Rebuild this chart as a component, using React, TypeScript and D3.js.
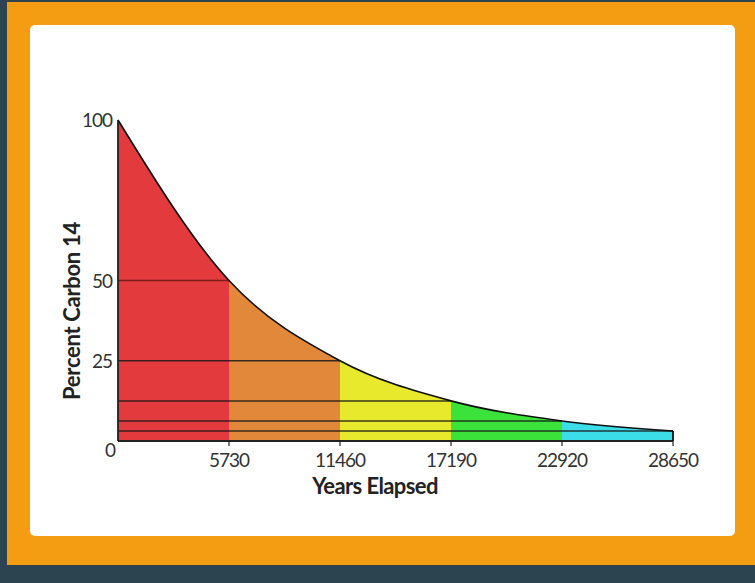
import * as d3 from "d3";
import { useEffect, useRef } from "react";

// half-life steps of carbon 14
const years = [0, 5730, 11460, 17190, 22920, 28650];
const percents = [100, 50, 25, 12.5, 6.25, 3.125];
const bandColors = ["#e33a3e", "#e2883b", "#e8e82c", "#3be23a", "#3bdde9"];
const yTicks = [0, 25, 50, 100];
const xTicks = [5730, 11460, 17190, 22920, 28650];

const W = 755;
const H = 583;

export default function App() {
  const ref = useRef<SVGSVGElement>(null);

  useEffect(() => {
    const svg = d3.select(ref.current);
    svg.selectAll("*").remove();

    // page background + orange frame + white card
    svg.append("rect").attr("width", W).attr("height", H).attr("fill", "#2b4450");
    svg.append("rect").attr("x", 7).attr("y", 2).attr("width", W - 7).attr("height", 563).attr("fill", "#f49d12");
    svg.append("rect").attr("x", 30).attr("y", 25).attr("width", 705).attr("height", 511).attr("rx", 5).attr("fill", "#ffffff");

    const x = d3.scaleLinear().domain([0, 28650]).range([118, 673]);
    const y = d3.scaleLinear().domain([0, 100]).range([441, 120]);

    const pts = years.map((yr, i) => [yr, percents[i]] as [number, number]);

    const area = d3
      .area<[number, number]>()
      .x((d) => x(d[0]))
      .y0(y(0))
      .y1((d) => y(d[1]))
      .curve(d3.curveMonotoneX);

    const line = d3
      .line<[number, number]>()
      .x((d) => x(d[0]))
      .y((d) => y(d[1]))
      .curve(d3.curveMonotoneX);

    const defs = svg.append("defs");
    bandColors.forEach((c, i) => {
      defs
        .append("clipPath")
        .attr("id", `band${i}`)
        .append("rect")
        .attr("x", x(years[i]))
        .attr("y", 0)
        .attr("width", x(years[i + 1]) - x(years[i]))
        .attr("height", H);
      svg
        .append("path")
        .attr("d", area(pts))
        .attr("fill", c)
        .attr("clip-path", `url(#band${i})`);
    });

    // horizontal half-life guide lines
    const g = svg.append("g");
    g.selectAll("line.h")
      .data(pts.slice(1))
      .join("line")
      .attr("x1", x(0))
      .attr("x2", (d) => x(d[0]))
      .attr("y1", (d) => y(d[1]))
      .attr("y2", (d) => y(d[1]))
      .attr("stroke", (d, i) => (i === 0 ? "#6a1a1a" : "#1a1a1a"))
      .attr("stroke-opacity", 0.85)
      .attr("stroke-width", 1.5);

    svg
      .append("path")
      .attr("d", line(pts))
      .attr("fill", "none")
      .attr("stroke", "#111")
      .attr("stroke-width", 1.6);

    // axes
    svg.append("line").attr("x1", x(0)).attr("x2", x(0)).attr("y1", y(100)).attr("y2", y(0)).attr("stroke", "#222").attr("stroke-width", 1.8);
    svg.append("line").attr("x1", x(0)).attr("x2", x(28650)).attr("y1", y(0)).attr("y2", y(0)).attr("stroke", "#222").attr("stroke-width", 1.8);
    svg.append("line").attr("x1", x(28650)).attr("x2", x(28650)).attr("y1", y(3.125)).attr("y2", y(0)).attr("stroke", "#111").attr("stroke-width", 1.8);

    svg
      .append("g")
      .selectAll("line")
      .data(xTicks)
      .join("line")
      .attr("x1", (d) => x(d))
      .attr("x2", (d) => x(d))
      .attr("y1", y(0))
      .attr("y2", y(0) + 5)
      .attr("stroke", "#222")
      .attr("stroke-width", 1.2);

    svg
      .append("g")
      .attr("font-family", "Lato, sans-serif")
      .attr("font-size", 19)
      .attr("fill", "#333")
      .attr("text-anchor", "middle")
      .selectAll("text")
      .data(xTicks)
      .join("text")
      .attr("x", (d) => x(d))
      .attr("y", 467)
      .attr("letter-spacing", -1)
      .text((d) => d);

    svg
      .append("g")
      .attr("font-family", "Lato, sans-serif")
      .attr("font-size", 19)
      .attr("fill", "#333")
      .attr("text-anchor", "end")
      .selectAll("text")
      .data(yTicks)
      .join("text")
      .attr("x", (d) => (d === 0 ? 115 : 112))
      .attr("y", (d) => (d === 0 ? y(d) + 16 : y(d) + 7))
      .attr("letter-spacing", -1)
      .text((d) => d);

    svg
      .append("text")
      .attr("x", 375)
      .attr("y", 494)
      .attr("text-anchor", "middle")
      .attr("font-family", "Lato, sans-serif")
      .attr("font-weight", "bold")
      .attr("font-size", 22)
      .attr("fill", "#222")
      .attr("letter-spacing", -0.6)
      .text("Years Elapsed");

    svg
      .append("text")
      .attr("transform", "translate(80,311) rotate(-90)")
      .attr("text-anchor", "middle")
      .attr("font-family", "Lato, sans-serif")
      .attr("font-weight", "bold")
      .attr("font-size", 22)
      .attr("fill", "#222")
      .attr("letter-spacing", -0.3)
      .text("Percent Carbon 14");
  }, []);

  return (
    <svg
      ref={ref}
      width={W}
      height={H}
      style={{ position: "absolute", left: 0, top: 0, display: "block" }}
    />
  );
}
